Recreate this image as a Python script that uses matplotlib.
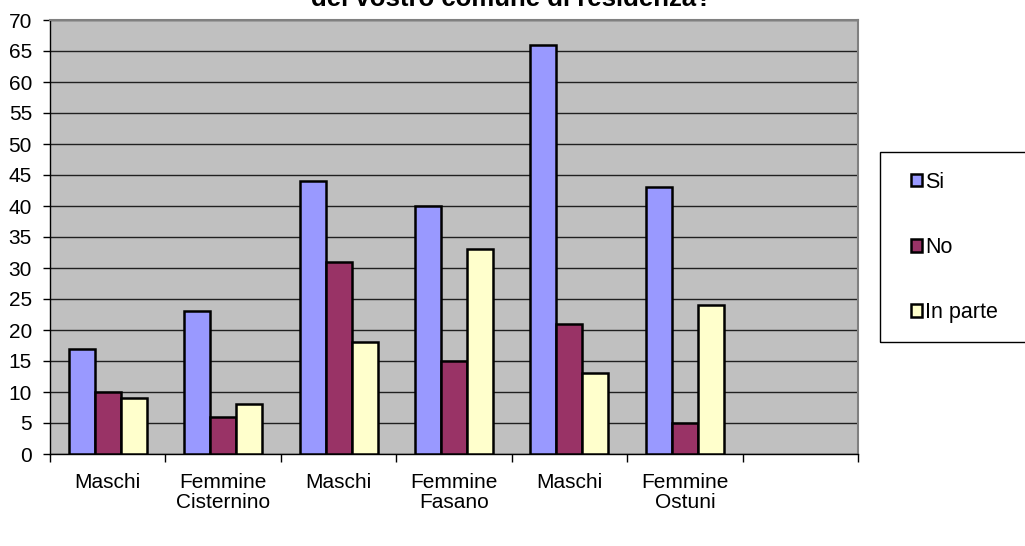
import numpy as np
import matplotlib.pyplot as plt
from matplotlib.patches import Rectangle

plt.rcParams['font.family'] = ['Liberation Sans', 'DejaVu Sans']

categories = ['Maschi', 'Femmine\nCisternino', 'Maschi', 'Femmine\nFasano',
              'Maschi', 'Femmine\nOstuni', '']
si = [17, 23, 44, 40, 66, 43]
no = [10, 6, 31, 15, 21, 5]
in_parte = [9, 8, 18, 33, 13, 24]
series = [('Si', si, '#9999FF'), ('No', no, '#993366'), ('In parte', in_parte, '#FFFFCC')]

fig = plt.figure(figsize=(10.25, 5.46), dpi=100)
ax = fig.add_axes([50 / 1025, 1 - 454 / 546, 808 / 1025, 434 / 546])
ax.set_facecolor('#C0C0C0')

x = np.arange(len(si))
w = 0.225
for i, (name, vals, col) in enumerate(series):
    ax.bar(x + (i - 1) * w, vals, w, color=col, edgecolor='black', linewidth=1.8,
           label=name, zorder=3)

ax.set_xlim(-0.5, len(categories) - 0.5)
ax.set_ylim(0, 70)
ax.set_yticks(range(0, 71, 5))
ax.yaxis.grid(True, color='#202020', linewidth=1, zorder=0)
ax.set_axisbelow(True)

fs = 15
ax.set_xticks(np.arange(len(categories)))
ax.set_xticklabels(categories, fontsize=fs, linespacing=1.05)
ax.tick_params(axis='x', length=0, pad=14)
ax.set_xticks(np.arange(len(categories) + 1) - 0.5, minor=True)
ax.tick_params(axis='x', which='minor', length=6, width=1, direction='out')
ax.tick_params(axis='y', labelsize=fs, length=5, width=1, pad=8)

for s in ['top', 'right']:
    ax.spines[s].set_color('#808080')
    ax.spines[s].set_linewidth(1.5)
for s in ['left', 'bottom']:
    ax.spines[s].set_color('black')
    ax.spines[s].set_linewidth(1)

# legend frame runs off the right edge like in the original
fig.patches.append(Rectangle((880 / 1025, 1 - 342 / 546), 0.2, 190 / 546,
                             transform=fig.transFigure, fill=False,
                             edgecolor='black', linewidth=1))
leg = ax.legend(loc='upper left', bbox_to_anchor=(911 / 1025, 1 - 172 / 546),
                bbox_transform=fig.transFigure, frameon=False,
                fontsize=15.5, handlelength=0.5, handleheight=0.5, handletextpad=0.15,
                labelspacing=2.05, borderpad=0, borderaxespad=0)
for h in leg.legend_handles:
    h.set_linewidth(1.8)

fig.text(511 / 1025, 1 - 6 / 546, 'del vostro comune di residenza?', ha='center',
         va='baseline', fontsize=18.5, fontweight='bold')

fig.savefig('out.png', dpi=100)
